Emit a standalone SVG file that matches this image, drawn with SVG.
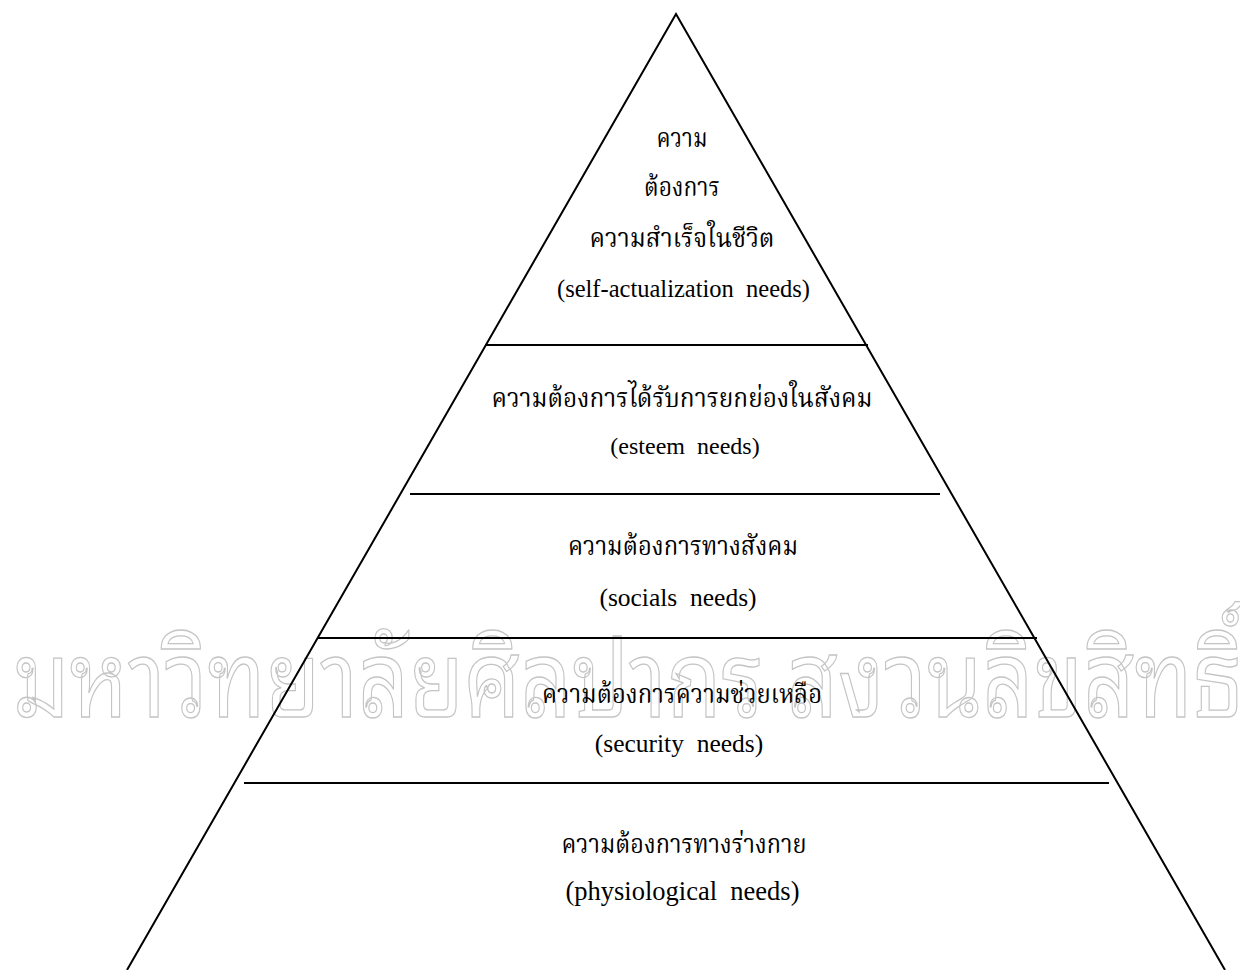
<svg xmlns="http://www.w3.org/2000/svg" width="1240" height="970" viewBox="0 0 1240 970">
<style>
.ln{stroke:#000;stroke-width:2;fill:none}
.th{font-family:"Noto Serif Thai","Noto Sans Thai Looped","DejaVu Sans",serif;font-size:27px;fill:#000;text-anchor:middle}
.en{font-family:"Liberation Serif",serif;fill:#000;text-anchor:middle;white-space:pre}
.wm{font-family:"Noto Sans Thai Looped","Noto Serif Thai","DejaVu Sans",sans-serif;font-size:106px;fill:none;stroke:#c4c4c4;stroke-width:1.3}
</style>
<rect width="1240" height="970" fill="#fff"/>
<text class="wm" x="13" y="717" textLength="1230" lengthAdjust="spacingAndGlyphs">มหาวิทยาลัยศิลปากร สงวนลิขสิทธิ์</text>
<g id="connectors">
<polyline class="ln" points="127,970 676,14 1225,970"/>
<line class="ln" x1="485" y1="345" x2="868" y2="345"/>
<line class="ln" x1="410" y1="494" x2="940" y2="494"/>
<line class="ln" x1="317" y1="638" x2="1037" y2="638"/>
<line class="ln" x1="244" y1="783" x2="1109" y2="783"/>
</g>
<g id="self-actualization">
<text class="th" x="682" y="147" textLength="51" lengthAdjust="spacingAndGlyphs">ความ</text>
<text class="th" x="682" y="196" textLength="76" lengthAdjust="spacingAndGlyphs">ต้องการ</text>
<text class="th" x="682" y="247" textLength="185" lengthAdjust="spacingAndGlyphs">ความสำเร็จในชีวิต</text>
<text class="en" x="683.5" y="297" font-size="24.5">(self-actualization  needs)</text>
</g>
<g id="esteem">
<text class="th" x="682" y="407" textLength="381" lengthAdjust="spacingAndGlyphs">ความต้องการได้รับการยกย่องในสังคม</text>
<text class="en" x="685" y="454" font-size="24">(esteem  needs)</text>
</g>
<g id="social">
<text class="th" x="683" y="555" textLength="230" lengthAdjust="spacingAndGlyphs">ความต้องการทางสังคม</text>
<text class="en" x="678" y="606" font-size="25.5">(socials  needs)</text>
</g>
<g id="security">
<text class="th" x="682" y="703" textLength="280" lengthAdjust="spacingAndGlyphs">ความต้องการความช่วยเหลือ</text>
<text class="en" x="679" y="752" font-size="25.5">(security  needs)</text>
</g>
<g id="physiological">
<text class="th" x="684" y="853" textLength="245" lengthAdjust="spacingAndGlyphs">ความต้องการทางร่างกาย</text>
<text class="en" x="682.5" y="900" font-size="26.5">(physiological  needs)</text>
</g>
</svg>
